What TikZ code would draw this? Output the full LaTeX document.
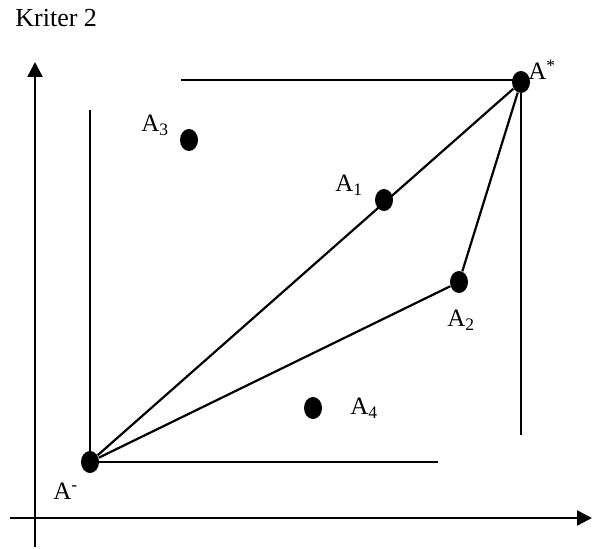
\documentclass[tikz,border=0pt]{standalone}
\usepackage{fontspec}
\setmainfont{Liberation Serif}
\usetikzlibrary{arrows.meta,shapes.geometric}

\begin{document}
\begin{tikzpicture}[x=0.5pt,y=-0.5pt,
        dot/.style={ellipse,fill=black,inner sep=0pt,minimum width=9pt,minimum height=11pt},
        lbl/.style={inner sep=0pt,anchor=base west,font=\fontsize{12.5}{15}\selectfont},
        line/.style={line width=1.1pt},
        axis/.style={line width=1.2pt,-{Triangle[length=7.5pt,width=7.5pt]}}]
        \useasboundingbox (0,0) rectangle (593,549);
        % axes
        \coordinate (yfoot) at (35,547);
        \coordinate (ytip) at (35,62);
        \coordinate (xfoot) at (10,518);
        \coordinate (xtip) at (592,518);
        \draw[axis] (yfoot) -- (ytip);
        \draw[axis] (xfoot) -- (xtip);
        \node[lbl,font=\fontsize{13}{16}\selectfont] (kriter) at (15,27) {Kriter 2};
        % alternatives
        \node[dot] (aneg) at (90,462) {};
        \node[dot] (apos) at (521,82) {};
        \node[dot] (a1) at (384,200) {};
        \node[dot] (a2) at (459,282) {};
        \node[dot] (a3) at (189,140) {};
        \node[dot] (a4) at (313,408) {};
        \node[lbl] (laneg) at (53,499) {A\textsuperscript{-}};
        \node[lbl] (lapos) at (528,80) {A\textsuperscript{*}};
        \node[lbl] (la1) at (335,192) {A\textsubscript{1}};
        \node[lbl] (la2) at (447,327) {A\textsubscript{2}};
        \node[lbl] (la3) at (141,132) {A\textsubscript{3}};
        \node[lbl] (la4) at (350,415) {A\textsubscript{4}};
        % frame round the ideal points
        \coordinate (lefttop) at (90,110);
        \coordinate (bottomend) at (438,462);
        \coordinate (topstart) at (181,80);
        \coordinate (rightend) at (521,435);
        \draw[line] (aneg.center) -- (lefttop);
        \draw[line] (aneg.center) -- (bottomend);
        \draw[line] (topstart) -- (topstart -| apos);
        \draw[line] (apos.center) -- (rightend);
        % distances
        \draw[line] (aneg) -- (apos);
        \draw[line] (aneg) -- (a2);
        \draw[line] (a2) -- (apos);
\end{tikzpicture}
\end{document}
